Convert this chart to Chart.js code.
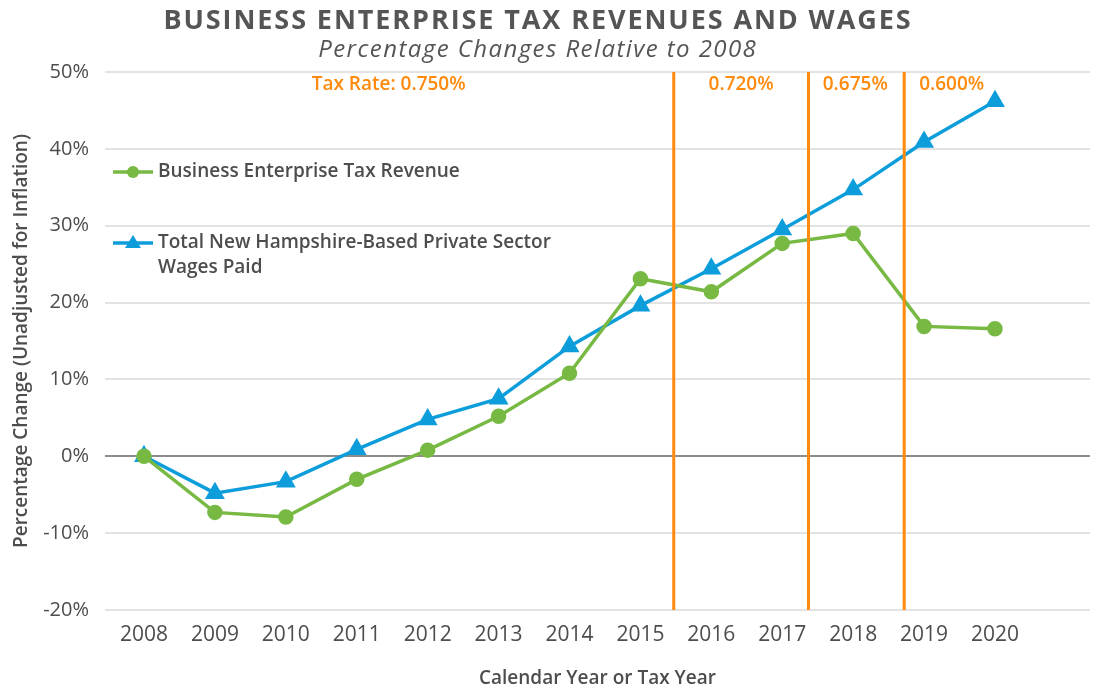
<!DOCTYPE html>
<html>
<head>
<meta charset="utf-8">
<script src="https://cdn.jsdelivr.net/npm/chart.js@4/dist/chart.umd.min.js"></script>
<style>
  html, body { margin: 0; padding: 0; background: #fff; }
  #wrap { width: 1107px; height: 690px; position: relative; }
</style>
</head>
<body>
<div id="wrap"><canvas id="chart"></canvas></div>
<script>
// chart data
const years = [2008, 2009, 2010, 2011, 2012, 2013, 2014, 2015, 2016, 2017, 2018, 2019, 2020];
const betRevenue = [0, -7.3, -7.9, -3.0, 0.8, 5.2, 10.8, 23.1, 21.4, 27.7, 29.0, 16.9, 16.6];
const wagesPaid = [0, -4.8, -3.3, 0.9, 4.8, 7.5, 14.3, 19.6, 24.4, 29.5, 34.7, 40.9, 46.2];
const yTicks = [-20, -10, 0, 10, 20, 30, 40, 50];

// tax rate changes (vertical lines) and the rate labels between them
const rateChangeYears = [2015.47, 2017.37, 2018.72];
const rateLabels = ['Tax Rate: 0.750%', '0.720%', '0.675%', '0.600%'];
const rateLabelYears = [2011.45, 2016.42, 2018.03, 2019.39];

const GREEN = '#77b943';
const BLUE = '#0d9ddb';
const ORANGE = '#ff8a0d';
const TEXT = '#4d4d4d';
const FONT = '"Open Sans", sans-serif';

const seriesPoints = vals => years.map((y, i) => ({ x: y, y: vals[i] }));

const rateLines = rateChangeYears.map(yr => ({
    type: 'line',
    data: [{ x: yr, y: yTicks[0] }, { x: yr, y: yTicks[yTicks.length - 1] }],
    borderColor: ORANGE,
    borderWidth: 3,
    pointRadius: 0,
    order: 0
}));

// stretch centered text to the given width with letter spacing
function fitText(ctx, text, x, y, width) {
    ctx.letterSpacing = '0px';
    const ls = Math.max(0, (width - ctx.measureText(text).width) / text.length);
    ctx.letterSpacing = ls + 'px';
    ctx.fillText(text, x + ls / 2, y);
    ctx.letterSpacing = '0px';
}

// titles, rate labels and the in-plot legend
const decorations = {
    id: 'decorations',
    afterDatasetsDraw(chart) {
        const ctx = chart.ctx;
        const xs = chart.scales.x;
        ctx.save();
        ctx.textAlign = 'center';
        ctx.textBaseline = 'middle';

        ctx.fillStyle = '#555';
        ctx.font = `bold 27px ${FONT}`;
        fitText(ctx, 'BUSINESS ENTERPRISE TAX REVENUES AND WAGES', 537, 21, 749);
        ctx.font = `italic 24px ${FONT}`;
        fitText(ctx, 'Percentage Changes Relative to 2008', 537, 50, 439);

        ctx.fillStyle = ORANGE;
        ctx.font = `600 19px ${FONT}`;
        rateLabels.forEach((t, i) => {
            ctx.fillText(t, xs.getPixelForValue(rateLabelYears[i]), 85);
        });

        // legend
        const lx = chart.chartArea.left + 8;
        ctx.lineWidth = 3.5;
        ctx.strokeStyle = GREEN;
        ctx.beginPath(); ctx.moveTo(lx, 172); ctx.lineTo(lx + 40, 172); ctx.stroke();
        ctx.fillStyle = GREEN;
        ctx.beginPath(); ctx.arc(lx + 20, 172, 6, 0, Math.PI * 2); ctx.fill();

        ctx.strokeStyle = BLUE;
        ctx.beginPath(); ctx.moveTo(lx, 243); ctx.lineTo(lx + 40, 243); ctx.stroke();
        ctx.fillStyle = BLUE;
        ctx.beginPath();
        ctx.moveTo(lx + 20, 235); ctx.lineTo(lx + 28, 248); ctx.lineTo(lx + 12, 248);
        ctx.closePath(); ctx.fill();

        ctx.fillStyle = TEXT;
        ctx.textAlign = 'left';
        ctx.font = `600 19px ${FONT}`;
        ctx.fillText('Business Enterprise Tax Revenue', lx + 45, 172);
        ctx.fillText('Total New Hampshire-Based Private Sector', lx + 45, 243);
        ctx.fillText('Wages Paid', lx + 45, 268);
        ctx.restore();
    }
};

new Chart(document.getElementById('chart'), {
    type: 'line',
    data: {
        datasets: [
            {
                label: 'Business Enterprise Tax Revenue',
                data: seriesPoints(betRevenue),
                borderColor: GREEN,
                backgroundColor: GREEN,
                borderWidth: 3.5,
                pointStyle: 'circle',
                pointRadius: 6,
                order: 1
            },
            {
                label: 'Total New Hampshire-Based Private Sector Wages Paid',
                data: seriesPoints(wagesPaid),
                borderColor: BLUE,
                backgroundColor: BLUE,
                borderWidth: 3.5,
                pointStyle: 'triangle',
                pointRadius: 8,
                order: 1
            },
            ...rateLines
        ]
    },
    options: {
        responsive: true,
        maintainAspectRatio: false,
        animation: false,
        layout: { padding: { top: 72, right: 17, left: 0, bottom: 0 } },
        plugins: {
            legend: { display: false },
            tooltip: { enabled: false }
        },
        scales: {
            x: {
                type: 'linear',
                min: 2007.45,
                max: 2021.34,
                afterBuildTicks: s => { s.ticks = years.map(v => ({ value: v })); },
                afterFit: s => { s.height = 80; },
                grid: { display: false, drawTicks: false },
                border: { display: false },
                ticks: {
                    padding: 12,
                    color: TEXT,
                    font: { family: FONT, size: 21 },
                    callback: v => String(v)
                },
                title: {
                    display: true,
                    text: 'Calendar Year or Tax Year',
                    color: TEXT,
                    font: { family: FONT, size: 19, weight: '600' },
                    padding: { top: 0, bottom: 0 }
                }
            },
            y: {
                min: -20,
                max: 50,
                afterBuildTicks: s => { s.ticks = yTicks.map(v => ({ value: v })); },
                afterFit: s => { s.width = 105; },
                grid: {
                    drawTicks: false,
                    lineWidth: 2,
                    color: c => c.tick && c.tick.value === 0 ? '#8c8c8c' : '#e3e3e3'
                },
                border: { display: false },
                ticks: {
                    padding: 16,
                    color: TEXT,
                    font: { family: FONT, size: 20 },
                    callback: v => v + '%'
                },
                title: {
                    display: true,
                    text: 'Percentage Change (Unadjusted for Inflation)',
                    color: TEXT,
                    font: { family: FONT, size: 19, weight: '600' },
                    padding: { top: 10, bottom: 0 }
                }
            }
        }
    },
    plugins: [decorations]
});
</script>
</body>
</html>
